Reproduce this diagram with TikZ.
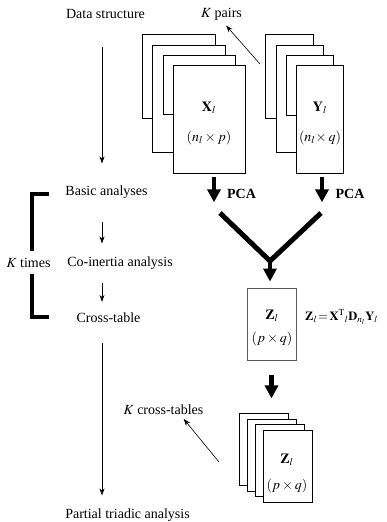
\documentclass[tikz,border=0pt]{standalone}
\usepackage{mathptmx}
\usepackage{fontspec}
\setmainfont{Liberation Serif}
\usetikzlibrary{arrows.meta}
\tikzset{
    txt/.style={inner sep=0pt,font=\fontsize{14}{16}\selectfont},
    pcatxt/.style={inner sep=0pt,font=\fontsize{14}{16}\selectfont\bfseries},
    sheet/.style={draw,fill=white,line width=0.7pt},
    frontsheet/.style={sheet,rectangle,inner sep=0pt},
    thinarrow/.style={-{Stealth[length=7pt,width=5pt]},line width=0.6pt},
    fatarrow/.style={-{Triangle[length=13pt,width=13pt]},line width=4.5pt},
    fatline/.style={line width=5pt},
    bracketline/.style={line width=4pt},
}
\begin{document}
\begin{tikzpicture}[x=1pt,y=-1pt]
    \useasboundingbox (0,0) rectangle (386,522);
    %% left column
    \node[txt] (datastr) at (105.5,14) {Data structure};
    \node[txt] (basic) at (106.5,192) {Basic analyses};
    \node[txt] (coin) at (120,263) {Co-inertia analysis};
    \node[txt] (cross) at (108.5,318) {Cross-table};
    \node[txt] (partial) at (127.5,515) {Partial triadic analysis};
    \node[txt] (ktimes) at (28.5,263) {$K$ times};
    \coordinate (col) at (102,0);
    \draw[thinarrow,shorten <=28pt,shorten >=22pt] (datastr.south -| col) -- (basic.north -| col);
    \draw[thinarrow,shorten <=23pt,shorten >=13pt] (basic.south -| col) -- (coin.north -| col);
    \draw[thinarrow,shorten <=13pt,shorten >=11pt] (coin.south -| col) -- (cross.north -| col);
    \draw[thinarrow,shorten <=20pt,shorten >=13pt] (cross.south -| col) -- (partial.north -| col);
    %% bracket
    \draw[bracketline] (49,194) -- (32,194) -- (32,251);
    \draw[bracketline] (32,274) -- (32,317) -- (49,317);
    %% data tables
    \foreach \l/\t/\r/\b in {142/34/215/118,152/45/225/152,163/55/235/114}
        \draw[sheet] (\l,\t) rectangle (\r,\b);
    \node[frontsheet,minimum width=72pt,minimum height=108pt] (xl) at (209,119) {};
    \node[txt] (xlab) at (209,108) {$\mathbf{X}_{l}$};
    \node[txt] (xdim) at (209,138) {$(n_{l}\times p)$};
    \foreach \l/\t/\r/\b in {265/34/313/118,276/45/323/152,286/55/333/115}
        \draw[sheet] (\l,\t) rectangle (\r,\b);
    \node[frontsheet,minimum width=47pt,minimum height=108pt] (yl) at (319.5,119) {};
    \node[txt] (ylab) at (320,108) {$\mathbf{Y}_{l}$};
    \node[txt] (ydim) at (320,138) {$(n_{l}\!\times q)$};
    \node[txt] (kpairs) at (221.5,14) {$K$ pairs};
    \coordinate (kp) at (260,64);
    \draw[thinarrow,shorten >=7pt] (kp) -- (kpairs.south);
    %% PCA and merge
    \node[pcatxt] (pcax) at (241.5,194) {PCA};
    \node[pcatxt] (pcay) at (350,194) {PCA};
    \draw[fatarrow,shorten <=4pt] ([xshift=5pt]xl.south) -- ++(0,29);
    \draw[fatarrow,shorten <=4pt] ([xshift=2.5pt]yl.south) -- ++(0,29);
    \coordinate (vl) at (220,213);
    \coordinate (vr) at (321,213);
    \coordinate (vm) at (270,261);
    \draw[fatline] (vl) -- (vm) -- (vr);
    %% cross-table
    \node[frontsheet,draw=black!65,line width=0.9pt,minimum width=49pt,minimum height=72pt] (zl) at (271.5,324) {};
    \node[txt] (zlab) at (272,316) {$\mathbf{Z}_{l}$};
    \node[txt] (zdim) at (272,339) {$(p\times q)$};
    \draw[fatarrow,shorten >=6pt] (vm) -- (zl.north -| vm);
    \node[txt,font=\fontsize{12.5}{14}\selectfont,anchor=west] (formula) at (305,317)
        {$\mathbf{Z}_{l}\!=\!\mathbf{X}^{\mathrm{T}}{}_{l}\mathbf{D}_{n_{l}}\mathbf{Y}_{l}$};
    %% K cross-tables
    \draw[fatarrow,shorten <=15pt] (zl.south) -- ++(0,38);
    \foreach \l/\t/\r/\b in {239/413/288/485,247/419/296/491,255/424/304/496}
        \draw[sheet] (\l,\t) rectangle (\r,\b);
    \node[frontsheet,minimum width=49pt,minimum height=72pt] (zk) at (287.5,466) {};
    \node[txt] (zklab) at (287,460) {$\mathbf{Z}_{l}$};
    \node[txt] (zkdim) at (287,486) {$(p\times q)$};
    \node[txt] (kcross) at (163.5,410) {$K$ cross-tables};
    \coordinate (kc) at (219,462);
    \draw[thinarrow,shorten >=5pt] (kc) -- ([xshift=17pt]kcross.south);
\end{tikzpicture}
\end{document}
